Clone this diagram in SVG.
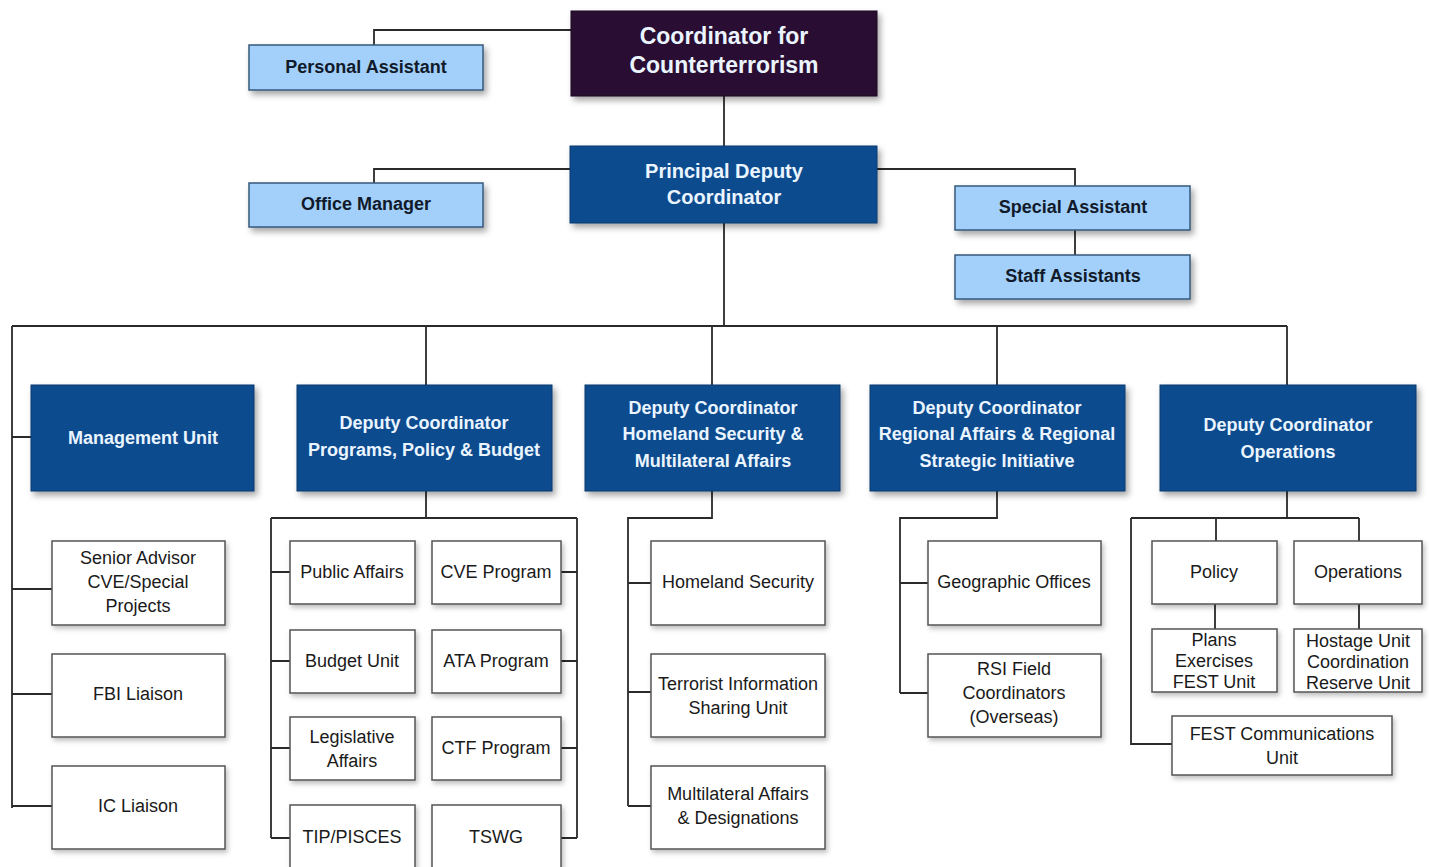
<svg xmlns="http://www.w3.org/2000/svg" width="1429" height="867" viewBox="0 0 1429 867">
<defs>
<filter id="sh" x="-10%" y="-20%" width="130%" height="150%"><feDropShadow dx="3" dy="4" stdDeviation="3" flood-color="#000" flood-opacity="0.35"/></filter>
<filter id="shw" x="-10%" y="-20%" width="130%" height="150%"><feDropShadow dx="2" dy="3" stdDeviation="2.5" flood-color="#000" flood-opacity="0.25"/></filter>
<style>
.top{fill:#2b0b30;stroke:#1a0620;stroke-width:1;filter:url(#sh)}
.dk{fill:#0b4c8f;stroke:#083a6e;stroke-width:1;filter:url(#sh)}
.lt{fill:#a2d0fa;stroke:#34597c;stroke-width:1.5;filter:url(#sh)}
.wb{fill:#fff;stroke:#555;stroke-width:1.5;filter:url(#shw)}
.tw{font-family:"Liberation Sans",Arial,sans-serif;font-weight:bold;fill:#eaf5ff;text-anchor:middle}
.tl{font-family:"Liberation Sans",Arial,sans-serif;font-weight:bold;fill:#111a2a;text-anchor:middle;font-size:18px}
.tr{font-family:"Liberation Sans",Arial,sans-serif;fill:#1a1a1a;text-anchor:middle;font-size:18px}
.c{fill:none;stroke:#2a2a2a;stroke-width:1.8}
</style>
</defs>
<rect width="1429" height="867" fill="#fff"/>
<g id="connectors">
<path class="c" d="M571 30H374V45"/>
<path class="c" d="M724 96V146"/>
<path class="c" d="M570 169H374V183"/>
<path class="c" d="M877 169H1075V186M1075 230V255"/>
<path class="c" d="M724 223V326M12 326H1287M426 326V385M712 326V385M997 326V385M1287 326V385"/>
<path class="c" d="M12 326V808M12 437H31M12 589H52M12 694H52M12 806H52"/>
<path class="c" d="M426 491V518M271 518H577M271 518V838M577 518V838M271 572H290M271 661H290M271 748H290M271 838H290M561 572H577M561 661H577M561 748H577M561 838H577"/>
<path class="c" d="M712 491V518H628V806M628 583H651M628 692H651M628 806H651"/>
<path class="c" d="M997 491V518H900V693M900 583H928M900 693H928"/>
<path class="c" d="M1287 491V518M1131 518H1359M1216 518V541M1359 518V541M1131 518V744H1172M1215 604V629M1359 604V629"/>
</g>
<g id="coordinator"><rect class="top" x="571" y="11" width="306" height="85"/><text class="tw" font-size="23" x="724" y="44">Coordinator for</text><text class="tw" font-size="23" x="724" y="73">Counterterrorism</text></g>
<g id="personal-assistant"><rect class="lt" x="249" y="45" width="234" height="45"/><text class="tl" x="366" y="73">Personal Assistant</text></g>
<g id="principal-deputy"><rect class="dk" x="570" y="146" width="307" height="77"/><text class="tw" font-size="20" x="724" y="178">Principal Deputy</text><text class="tw" font-size="20" x="724" y="204">Coordinator</text></g>
<g id="office-manager"><rect class="lt" x="249" y="183" width="234" height="44"/><text class="tl" x="366" y="210">Office Manager</text></g>
<g id="special-assistant"><rect class="lt" x="955" y="186" width="235" height="44"/><text class="tl" x="1073" y="213">Special Assistant</text></g>
<g id="staff-assistants"><rect class="lt" x="955" y="255" width="235" height="44"/><text class="tl" x="1073" y="282">Staff Assistants</text></g>
<g id="management-unit"><rect class="dk" x="31" y="385" width="223" height="106"/><text class="tw" font-size="18" x="143" y="444">Management Unit</text></g>
<g id="dc-ppb"><rect class="dk" x="297" y="385" width="255" height="106"/><text class="tw" font-size="18" x="424" y="429">Deputy Coordinator</text><text class="tw" font-size="18" x="424" y="456">Programs, Policy &amp; Budget</text></g>
<g id="dc-hsma"><rect class="dk" x="585" y="385" width="255" height="106"/><text class="tw" font-size="18" x="713" y="414">Deputy Coordinator</text><text class="tw" font-size="18" x="713" y="440">Homeland Security &amp;</text><text class="tw" font-size="18" x="713" y="467">Multilateral Affairs</text></g>
<g id="dc-ra"><rect class="dk" x="870" y="385" width="255" height="106"/><text class="tw" font-size="18" x="997" y="414">Deputy Coordinator</text><text class="tw" font-size="18" x="997" y="440">Regional Affairs &amp; Regional</text><text class="tw" font-size="18" x="997" y="467">Strategic Initiative</text></g>
<g id="dc-ops"><rect class="dk" x="1160" y="385" width="256" height="106"/><text class="tw" font-size="18" x="1288" y="431">Deputy Coordinator</text><text class="tw" font-size="18" x="1288" y="458">Operations</text></g>
<g id="senior-advisor"><rect class="wb" x="52" y="541" width="173" height="84"/><text class="tr" x="138" y="564">Senior Advisor</text><text class="tr" x="138" y="588">CVE/Special</text><text class="tr" x="138" y="612">Projects</text></g>
<g id="fbi-liaison"><rect class="wb" x="52" y="654" width="173" height="83"/><text class="tr" x="138" y="700">FBI Liaison</text></g>
<g id="ic-liaison"><rect class="wb" x="52" y="766" width="173" height="83"/><text class="tr" x="138" y="812">IC Liaison</text></g>
<g id="public-affairs"><rect class="wb" x="290" y="541" width="125" height="63"/><text class="tr" x="352" y="578">Public Affairs</text></g>
<g id="cve-program"><rect class="wb" x="432" y="541" width="129" height="63"/><text class="tr" x="496" y="578">CVE Program</text></g>
<g id="budget-unit"><rect class="wb" x="290" y="630" width="125" height="63"/><text class="tr" x="352" y="667">Budget Unit</text></g>
<g id="ata-program"><rect class="wb" x="432" y="630" width="129" height="63"/><text class="tr" x="496" y="667">ATA Program</text></g>
<g id="legislative-affairs"><rect class="wb" x="290" y="717" width="125" height="63"/><text class="tr" x="352" y="743">Legislative</text><text class="tr" x="352" y="767">Affairs</text></g>
<g id="ctf-program"><rect class="wb" x="432" y="717" width="129" height="63"/><text class="tr" x="496" y="754">CTF Program</text></g>
<g id="tip-pisces"><rect class="wb" x="290" y="805" width="125" height="70"/><text class="tr" x="352" y="843">TIP/PISCES</text></g>
<g id="tswg"><rect class="wb" x="432" y="805" width="129" height="70"/><text class="tr" x="496" y="843">TSWG</text></g>
<g id="homeland-security"><rect class="wb" x="651" y="541" width="174" height="84"/><text class="tr" x="738" y="588">Homeland Security</text></g>
<g id="tisu"><rect class="wb" x="651" y="654" width="174" height="83"/><text class="tr" x="738" y="690">Terrorist Information</text><text class="tr" x="738" y="714">Sharing Unit</text></g>
<g id="multilateral"><rect class="wb" x="651" y="766" width="174" height="83"/><text class="tr" x="738" y="800">Multilateral Affairs</text><text class="tr" x="738" y="824">&amp; Designations</text></g>
<g id="geographic-offices"><rect class="wb" x="928" y="541" width="173" height="84"/><text class="tr" x="1014" y="588">Geographic Offices</text></g>
<g id="rsi-field"><rect class="wb" x="928" y="654" width="173" height="83"/><text class="tr" x="1014" y="675">RSI Field</text><text class="tr" x="1014" y="699">Coordinators</text><text class="tr" x="1014" y="723">(Overseas)</text></g>
<g id="policy"><rect class="wb" x="1152" y="541" width="125" height="63"/><text class="tr" x="1214" y="578">Policy</text></g>
<g id="operations"><rect class="wb" x="1294" y="541" width="128" height="63"/><text class="tr" x="1358" y="578">Operations</text></g>
<g id="plans"><rect class="wb" x="1152" y="629" width="125" height="63"/><text class="tr" x="1214" y="646">Plans</text><text class="tr" x="1214" y="667">Exercises</text><text class="tr" x="1214" y="688">FEST Unit</text></g>
<g id="hostage"><rect class="wb" x="1294" y="629" width="128" height="63"/><text class="tr" x="1358" y="647">Hostage Unit</text><text class="tr" x="1358" y="668">Coordination</text><text class="tr" x="1358" y="689">Reserve Unit</text></g>
<g id="fest-comm"><rect class="wb" x="1172" y="716" width="220" height="59"/><text class="tr" x="1282" y="740">FEST Communications</text><text class="tr" x="1282" y="764">Unit</text></g>
</svg>
